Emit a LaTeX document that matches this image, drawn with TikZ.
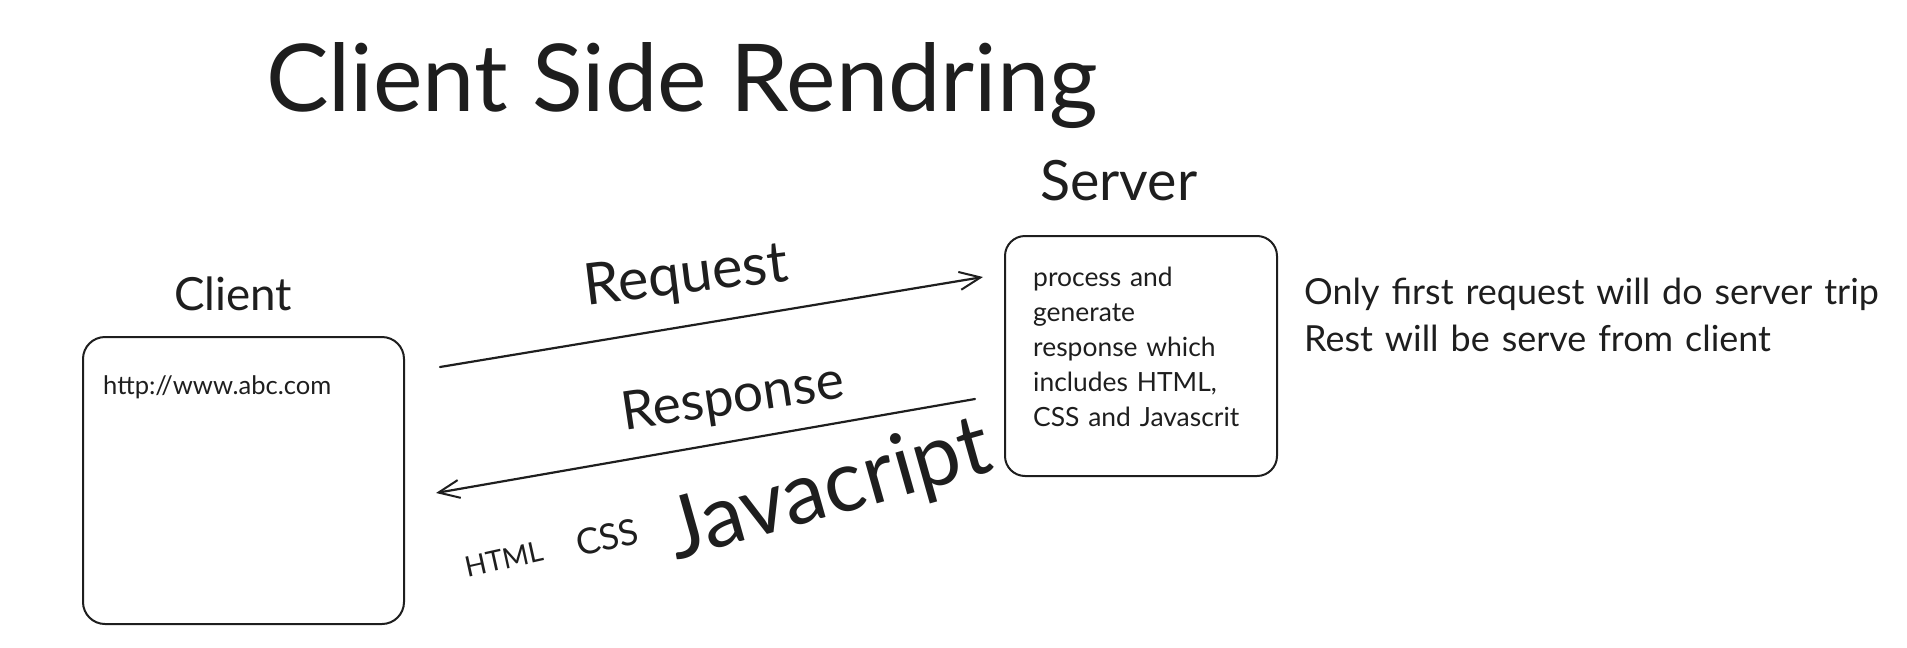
\documentclass[tikz,border=0pt]{standalone}
\usepackage{fontspec}
\setmainfont{Lato}
\usetikzlibrary{arrows.meta}
\definecolor{ink}{HTML}{1E1E1E}
\newlength\fitlen
\newcommand\fitfont[3]{\settowidth\fitlen{\fontsize{10pt}{12pt}\selectfont #2}\pgfmathsetmacro\fitsz{10*#1/\fitlen}\fontsize{\fitsz pt}{#3 pt}\selectfont}
\newcommand\fitw[2]{\resizebox{#1pt}{!}{#2}}
\begin{document}
\begin{tikzpicture}[x=1pt,y=-1pt,
  lbl/.style={inner sep=0pt,text=ink,anchor=base west},
  rlbl/.style={inner sep=0pt,text=ink,anchor=base},
  boxshape/.style={draw=ink,line width=2pt},
  flow/.style={draw=ink,line width=2.2pt,line cap=round,-{Straight Barb[length=21pt,width=18pt,line width=2pt]}}]
\useasboundingbox (0,0) rectangle (1907,648);
% title and labels
\node[lbl] (title) at (266,111) {\fitw{832}{Client Side Rendring}};
\node[lbl] (clientlbl) at (174,310) {\fitw{118}{Client}};
\node[lbl] (serverlbl) at (1040,200) {\fitw{157}{Server}};
% boxes
\draw[boxshape,rounded corners=22pt] (83,337) rectangle (404,624);
\node[inner sep=0pt] (client) at (243.5,480.5) [minimum width=321pt,minimum height=287pt] {};
\draw[boxshape,rounded corners=20pt] (1005,236) rectangle (1277,476);
\node[inner sep=0pt] (server) at (1141,356) [minimum width=272pt,minimum height=240pt] {};
\node[lbl] (url) at (103,394) {\fitw{228}{http://www.abc.com}};
\node[lbl,align=left,text width=240pt,font={\fitfont{202}{CSS and Javascrit}{35}}] (srvtext) at (1033,286)
  {process and\\generate\\response which\\includes HTML,\\CSS and Javascrit};
% note
\node[lbl,align=left,text width=600pt,font={\fitfont{558}{Only first request will do server trip}{47}}] (note) at (1304,304)
  {Only first request will do server trip\\Rest will be serve from client};
% connectors
\coordinate (reqS) at (440,367);
\coordinate (reqE) at (983,277);
\coordinate (resS) at (975,399);
\coordinate (resE) at (436,493);
\draw[flow] (reqS) -- (reqE);
\draw[flow] (resS) -- (resE);
% rotated labels
\node[rlbl,rotate=7] (reqlbl) at (688,293) {\fitw{205}{Request}};
\node[rlbl,rotate=8.5] (reslbl) at (735,414) {\fitw{224}{Response}};
\node[rlbl,rotate=12.5] (htmllbl) at (506,569) {\fitw{79}{HTML}};
\node[rlbl,rotate=12.5] (csslbl) at (610,550) {\fitw{63}{CSS}};
\node[rlbl,rotate=15.8] (jslbl) at (836,515) {\fitw{332}{Javacript}};
\end{tikzpicture}
\end{document}
